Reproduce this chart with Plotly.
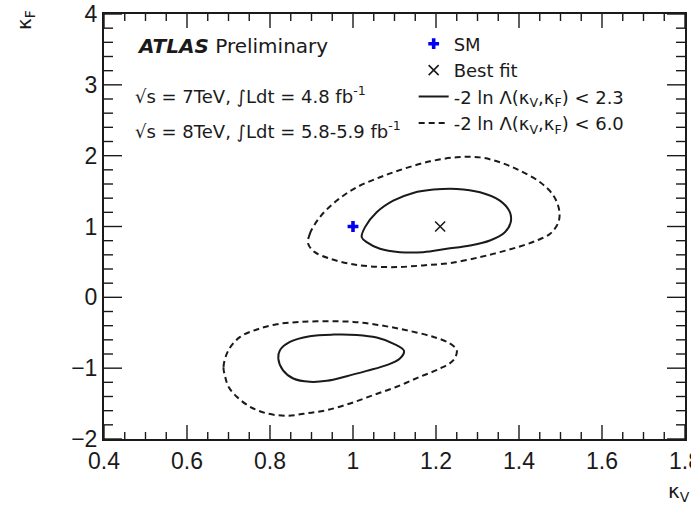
import plotly.graph_objects as go

# Contour points (kappa_V, kappa_F)
up_in_x = [1.021, 1.029, 1.057, 1.097, 1.145, 1.194, 1.250, 1.306, 1.354, 1.378, 1.380, 1.366, 1.330, 1.282, 1.226, 1.169, 1.113, 1.065, 1.033]
up_in_y = [0.850, 0.991, 1.202, 1.366, 1.474, 1.521, 1.531, 1.484, 1.366, 1.202, 1.061, 0.920, 0.803, 0.732, 0.685, 0.638, 0.638, 0.685, 0.779]

up_out_x = [0.892, 0.896, 0.920, 0.961, 1.009, 1.065, 1.121, 1.186, 1.250, 1.306, 1.354, 1.402, 1.451, 1.483, 1.497, 1.495, 1.475, 1.443, 1.402, 1.354, 1.306, 1.234, 1.169, 1.105, 1.041, 0.993, 0.945, 0.908]
up_out_y = [0.756, 0.897, 1.131, 1.366, 1.554, 1.695, 1.812, 1.920, 1.977, 1.976, 1.906, 1.789, 1.624, 1.437, 1.225, 1.061, 0.897, 0.803, 0.718, 0.638, 0.568, 0.484, 0.451, 0.427, 0.437, 0.474, 0.545, 0.638]

lo_in_x = [0.820, 0.824, 0.848, 0.896, 0.953, 1.009, 1.057, 1.097, 1.123, 1.113, 1.081, 1.033, 0.985, 0.937, 0.896, 0.856, 0.831]
lo_in_y = [-0.864, -0.746, -0.629, -0.549, -0.526, -0.531, -0.568, -0.653, -0.756, -0.864, -0.958, -1.038, -1.113, -1.178, -1.192, -1.146, -1.028]

lo_out_x = [0.692, 0.688, 0.700, 0.728, 0.768, 0.816, 0.872, 0.937, 1.001, 1.065, 1.129, 1.194, 1.234, 1.250, 1.242, 1.210, 1.161, 1.105, 1.049, 0.993, 0.937, 0.888, 0.840, 0.792, 0.752, 0.720, 0.700]
lo_out_y = [-1.122, -0.981, -0.746, -0.559, -0.455, -0.380, -0.347, -0.338, -0.347, -0.394, -0.465, -0.559, -0.653, -0.746, -0.887, -1.005, -1.122, -1.263, -1.380, -1.498, -1.592, -1.638, -1.671, -1.638, -1.545, -1.404, -1.263]

sm_x, sm_y = [1.0], [1.0]
best_x, best_y = [1.21], [1.0]

x_range = [0.4, 1.8]
y_range = [-2, 4]
x_major = [0.4, 0.6, 0.8, 1.0, 1.2, 1.4, 1.6, 1.8]
y_major = [-2, -1, 0, 1, 2, 3, 4]

FONT = "DejaVu Sans, Liberation Sans, Arial, sans-serif"
TICKFONT = "Liberation Sans, Arial, Helvetica, sans-serif"
INK = "#1a1a1a"


def closed(a):
    return list(a) + [a[0]]


fig = go.Figure()

fig.add_trace(go.Scatter(x=sm_x, y=sm_y, mode="markers", name="SM",
                         marker=dict(symbol="cross", size=9, color="#0000ee", line=dict(width=0))))
fig.add_trace(go.Scatter(x=best_x, y=best_y, mode="markers", name="Best fit",
                         marker=dict(symbol="x-thin", size=10, color=INK, line=dict(width=1.6, color=INK))))

fig.add_trace(go.Scatter(x=closed(up_in_x), y=closed(up_in_y), mode="lines", line_shape="spline",
                         name="-2 ln \u039b(\u03ba<sub>V</sub>,\u03ba<sub>F</sub>) &lt; 2.3",
                         legendgroup="s", line=dict(color=INK, width=2)))
fig.add_trace(go.Scatter(x=closed(lo_in_x), y=closed(lo_in_y), mode="lines", line_shape="spline",
                         showlegend=False, legendgroup="s", line=dict(color=INK, width=2)))
fig.add_trace(go.Scatter(x=closed(up_out_x), y=closed(up_out_y), mode="lines", line_shape="spline",
                         name="-2 ln \u039b(\u03ba<sub>V</sub>,\u03ba<sub>F</sub>) &lt; 6.0",
                         legendgroup="d", line=dict(color=INK, width=2, dash="6px,4px")))
fig.add_trace(go.Scatter(x=closed(lo_out_x), y=closed(lo_out_y), mode="lines", line_shape="spline",
                         showlegend=False, legendgroup="d", line=dict(color=INK, width=2, dash="6px,4px")))

fig.update_xaxes(range=x_range, tickmode="array", tickvals=x_major, ticks="",
                 showgrid=False, zeroline=False, automargin=False,
                 showline=True, mirror=True, linecolor=INK, linewidth=2,
                 ticklabeloverflow="allow", tickfont=dict(family=TICKFONT, size=23, color=INK))
fig.update_yaxes(range=y_range, tickmode="array", tickvals=y_major, ticks="",
                 showgrid=False, zeroline=False, automargin=False,
                 showline=True, mirror=True, linecolor=INK, linewidth=2,
                 ticklabeloverflow="allow", tickfont=dict(family=TICKFONT, size=23, color=INK))

# inward-pointing ROOT-style tick marks on all four sides, placed through the axis scales
x_minor = [round(x_range[0] + 0.05 * i, 4) for i in range(29)]
x_minor = [v for v in x_minor if all(abs(v - m) > 1e-6 for m in x_major)]
y_minor = [round(y_range[0] + 0.2 * i, 4) for i in range(31)]
y_minor = [v for v in y_minor if all(abs(v - m) > 1e-6 for m in y_major)]

tick_line = dict(color=INK, width=1.4)
for vals, ln in ((x_major, 14), (x_minor, 7)):
    for v in vals:
        fig.add_shape(type="line", xref="x", yref="y domain", x0=v, x1=v,
                      ysizemode="pixel", yanchor=0, y0=0, y1=ln, line=tick_line)
        fig.add_shape(type="line", xref="x", yref="y domain", x0=v, x1=v,
                      ysizemode="pixel", yanchor=1, y0=0, y1=-ln, line=tick_line)
for vals, ln in ((y_major, 18), (y_minor, 9)):
    for v in vals:
        fig.add_shape(type="line", xref="x domain", yref="y", y0=v, y1=v,
                      xsizemode="pixel", xanchor=0, x0=0, x1=ln, line=tick_line)
        fig.add_shape(type="line", xref="x domain", yref="y", y0=v, y1=v,
                      xsizemode="pixel", xanchor=1, x0=0, x1=-ln, line=tick_line)

fig.add_annotation(xref="paper", yref="paper", x=0.053, y=0.925, xanchor="left", yanchor="middle",
                   text="<b><i>ATLAS</i></b> Preliminary", showarrow=False,
                   font=dict(family=FONT, size=20, color=INK))
fig.add_annotation(xref="paper", yref="paper", x=0.05, y=0.81, xanchor="left", yanchor="middle",
                   text="\u221as = 7TeV, \u222bLdt = 4.8 fb<sup>-1</sup>", showarrow=False,
                   font=dict(family=FONT, size=18, color=INK))
fig.add_annotation(xref="paper", yref="paper", x=0.05, y=0.728, xanchor="left", yanchor="middle",
                   text="\u221as = 8TeV, \u222bLdt = 5.8-5.9 fb<sup>-1</sup>", showarrow=False,
                   font=dict(family=FONT, size=18, color=INK))
fig.add_annotation(xref="paper", yref="paper", x=-0.135, y=0.985, xanchor="center", yanchor="middle",
                   text="\u03ba<sub>F</sub>", textangle=-90, showarrow=False,
                   font=dict(family=FONT, size=20, color=INK))
fig.add_annotation(xref="paper", yref="paper", x=0.99, y=-0.125, xanchor="center", yanchor="middle",
                   text="\u03ba<sub>V</sub>", showarrow=False,
                   font=dict(family=FONT, size=20, color=INK))

fig.update_layout(
    width=691, height=510,
    margin=dict(l=104, r=6, t=14, b=71),
    paper_bgcolor="white", plot_bgcolor="white",
    font=dict(family=FONT, color=INK),
    legend=dict(x=0.533, y=0.973, xanchor="left", yanchor="top", bgcolor="rgba(0,0,0,0)",
                font=dict(family=FONT, size=18, color=INK), tracegroupgap=0, itemwidth=30),
)

fig.write_html("out.html")
